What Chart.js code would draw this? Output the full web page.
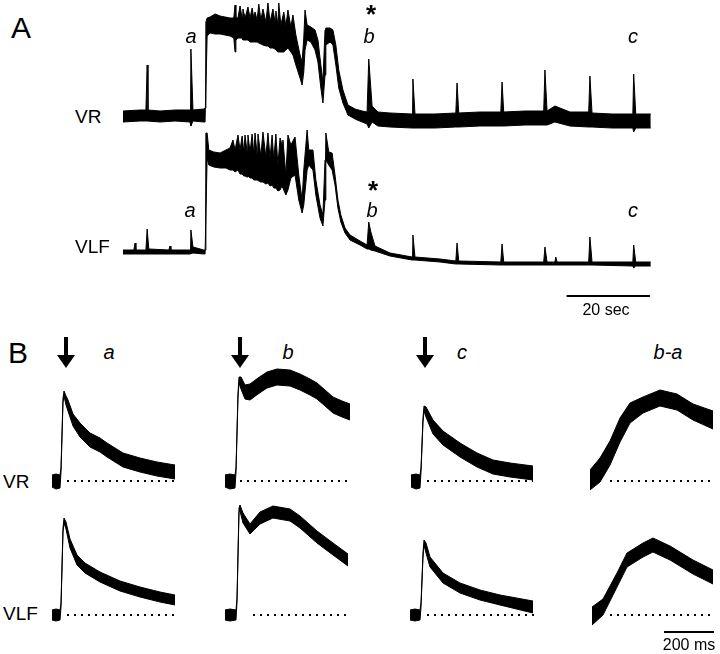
<!DOCTYPE html>
<html>
<head>
<meta charset="utf-8">
<script src="https://cdn.jsdelivr.net/npm/chart.js@4.4.1/dist/chart.umd.min.js"></script>
<style>
    body { margin: 0; background: #fff; }
    #fig { position: relative; width: 720px; height: 654px; overflow: hidden; font-family: Arial, "Liberation Sans", sans-serif; color: #000; }
    #fig canvas { position: absolute; }
    .lbl { position: absolute; transform: translate(-50%, -50%); white-space: nowrap; line-height: 1; }
    .lft { position: absolute; transform: translate(0, -50%); white-space: nowrap; line-height: 1; font-size: 19px; }
    .it { font-style: italic; font-size: 20px; }
    .big { font-size: 30px; }
    .star { font-size: 26px; font-weight: bold; }
    .bar { font-size: 16px; }
    .shaft { position: absolute; width: 4px; height: 20px; background: #000; }
    .head { position: absolute; width: 0; height: 0; border-left: 9px solid transparent; border-right: 9px solid transparent; border-top: 13px solid #000; }
</style>
</head>
<body>
<div id="fig">
    <canvas id="sweepVR" width="529" height="135" style="left:123px;top:0px"></canvas>
    <canvas id="sweepVLF" width="529" height="175" style="left:123px;top:125px"></canvas>
    <canvas id="vrA" width="125" height="130" style="left:52px;top:365px"></canvas>
    <canvas id="vrB" width="125" height="130" style="left:225px;top:365px"></canvas>
    <canvas id="vrC" width="125" height="130" style="left:410px;top:365px"></canvas>
    <canvas id="vrBA" width="125" height="130" style="left:590px;top:365px"></canvas>
    <canvas id="vlfA" width="125" height="145" style="left:52px;top:495px"></canvas>
    <canvas id="vlfB" width="125" height="145" style="left:225px;top:495px"></canvas>
    <canvas id="vlfC" width="125" height="145" style="left:410px;top:495px"></canvas>
    <canvas id="vlfBA" width="125" height="145" style="left:590px;top:495px"></canvas>

    <div class="lbl big" style="left:21px;top:28px">A</div>
    <div class="lft" style="left:75px;top:116px">VR</div>
    <div class="lft" style="left:75px;top:246px">VLF</div>
    <div class="lbl it" style="left:191px;top:36px">a</div>
    <div class="lbl star" style="left:371px;top:14px">*</div>
    <div class="lbl it" style="left:369px;top:36px">b</div>
    <div class="lbl it" style="left:633px;top:36px">c</div>
    <div class="lbl it" style="left:190px;top:210px">a</div>
    <div class="lbl star" style="left:373px;top:190px">*</div>
    <div class="lbl it" style="left:372px;top:210px">b</div>
    <div class="lbl it" style="left:633px;top:210px">c</div>
    <div class="lbl bar" style="left:606px;top:310px">20 sec</div>

    <div class="lbl big" style="left:18px;top:353px">B</div>
    <div class="lbl it" style="left:109px;top:352px">a</div>
    <div class="lbl it" style="left:288px;top:352px">b</div>
    <div class="lbl it" style="left:462px;top:352px">c</div>
    <div class="lbl it" style="left:668px;top:352px">b-a</div>
    <div class="lft" style="left:3px;top:481px">VR</div>
    <div class="lft" style="left:3px;top:613px">VLF</div>
    <div class="lbl bar" style="left:689px;top:645px">200 ms</div>

    <div class="shaft" style="left:64px;top:337px"></div>
    <div class="head" style="left:57px;top:355px"></div>
    <div class="shaft" style="left:238px;top:337px"></div>
    <div class="head" style="left:231px;top:355px"></div>
    <div class="shaft" style="left:423px;top:337px"></div>
    <div class="head" style="left:416px;top:355px"></div>
</div>
<script>
// panel A: [time (s), upper edge, lower edge] of the noisy band
const sweepVR = [
    [0, 9, -2], [4.1, 10, -1], [5.5, 10, -1], [5.8, 55, -1], [6.0, 10, -1], [8.9, 9, -2], [12.5, 10, -1],
    [16.1, 10, -2], [16.3, 71, -6], [16.8, 10, -1], [19.4, 11, -2], [19.7, 12, -2], [19.9, 98, -2],
    [20.2, 102, 84], [20.9, 103, 87], [22.1, 106, 86], [23.3, 104, 86], [24.5, 103, 85], [25.7, 102, 84],
    [26.6, 102, 82], [26.9, 115, 68], [27.1, 102, 80], [27.6, 102, 82], [28.1, 114, 82], [28.6, 102, 82],
    [28.8, 111, 80], [29.3, 102, 80], [30.0, 113, 80], [30.5, 102, 78], [31.0, 112, 78], [31.4, 102, 78],
    [31.7, 108, 78], [32.2, 100, 78], [32.6, 116, 77], [33.1, 100, 76], [33.6, 111, 75], [34.3, 98, 74],
    [34.8, 117, 74], [35.3, 98, 72], [36.0, 111, 72], [36.5, 98, 71], [36.7, 109, 70], [37.2, 95, 68],
    [37.4, 117, 68], [37.9, 95, 68], [38.6, 108, 68], [39.1, 94, 70], [39.6, 110, 72], [40.3, 93, 68],
    [40.8, 105, 65], [41.5, 85, 55], [42.5, 65, 42], [43.0, 58, 35], [43.4, 82, 48], [43.7, 110, 70],
    [44.2, 95, 80], [45.1, 93, 78], [46.1, 90, 70], [46.8, 80, 58], [47.5, 55, 32], [48.0, 38, 17],
    [48.5, 90, 45], [48.7, 92, 75], [49.7, 92, 78], [50.4, 90, 75], [51.1, 75, 55], [51.8, 50, 32],
    [52.8, 30, 17], [54.0, 15, 5], [55.7, 11, 1], [57.4, 9, -2], [58.6, 8, -4], [59.0, 61, -8],
    [59.8, 14, -2], [61.2, 8, -6], [64.1, 7, -7], [69.4, 6, -8], [69.6, 41, -8], [70.1, 6, -8],
    [74.9, 6, -8], [79.9, 7, -7], [80.2, 37, -7], [80.6, 7, -7], [85.7, 8, -6], [90.7, 8, -6],
    [91.0, 38, -6], [91.4, 8, -6], [96.5, 9, -5], [101.0, 9, -5], [101.3, 50, -5], [101.8, 9, -5],
    [103.7, 14, -2], [107.3, 8, -6], [111.8, 8, -7], [112.1, 44, -7], [112.6, 7, -7], [117.4, 6, -8],
    [122.4, 6, -8], [122.6, 46, -12], [123.1, 6, -8], [126.7, 6, -8]
];
const sweepVLF = [
    [0, 5, 1], [2.6, 5, 1], [2.9, 12, 1], [3.1, 5, 1], [5.5, 5, 1], [5.8, 26, 1], [6.2, 6, 1],
    [11.0, 5, 1], [11.3, 9, 1], [11.5, 5, 1], [16.1, 5, 1], [16.3, 25, 1], [16.8, 8, 2], [19.4, 5, 1],
    [19.7, 5, 1], [19.9, 122, 1], [20.2, 122, 97], [20.6, 105, 90], [21.8, 103, 88], [23.3, 102, 87],
    [24.7, 105, 87], [25.7, 107, 85], [26.4, 115, 85], [26.9, 105, 83], [27.6, 120, 85], [28.1, 105, 81],
    [28.6, 119, 81], [29.0, 103, 79], [29.3, 120, 79], [29.8, 103, 78], [30.0, 120, 79], [30.5, 103, 77],
    [31.0, 121, 77], [31.4, 101, 75], [31.7, 122, 75], [32.2, 100, 75], [32.4, 121, 75], [33.1, 99, 73],
    [33.6, 123, 73], [34.3, 98, 71], [34.8, 122, 72], [35.3, 97, 69], [35.8, 120, 70], [36.2, 95, 67],
    [36.7, 121, 67], [37.2, 90, 64], [37.7, 117, 65], [38.2, 110, 69], [38.4, 115, 67], [39.1, 80, 60],
    [39.6, 120, 65], [40.3, 110, 77], [41.3, 118, 80], [42.2, 80, 55], [43.0, 55, 42], [43.4, 85, 50],
    [44.2, 125, 85], [44.6, 105, 90], [45.6, 105, 85], [46.3, 75, 60], [47.3, 50, 37], [48.0, 40, 29],
    [48.5, 95, 55], [48.7, 122, 95], [49.4, 103, 90], [50.2, 102, 85], [50.9, 80, 70], [51.6, 55, 47],
    [52.3, 40, 33], [53.3, 27, 22], [54.5, 20, 15], [56.9, 14, 10], [58.6, 10, 6], [59.0, 33, 6],
    [59.5, 23, 5], [60.5, 9, 4], [64.1, 2, -1], [69.4, -2, -5], [69.6, 20, -5], [70.1, -2, -5],
    [76.1, -4, -7], [79.9, -6, -9], [80.2, 12, -9], [80.6, -6, -9], [90.7, -7, -10], [91.0, 11, -10],
    [91.4, -7, -10], [101.0, -7, -10], [101.3, 8, -10], [101.8, -7, -10], [103.7, -7, -10], [103.9, -2, -10],
    [104.2, -7, -10], [111.8, -7, -10], [112.1, 18, -10], [112.6, -7, -10], [122.4, -7, -11],
    [122.6, 10, -13], [123.1, -7, -11], [126.7, -7, -11]
];

// panel B: [time (ms), upper edge, lower edge]
const vrA = [
    [0, 6, -6], [16, 7, -8], [32, 6, -7], [36, 13, 9], [44, 83, 79], [48, 90, 85], [56, 85, 76], [64, 81, 70],
    [84, 67, 55], [112, 58, 44], [152, 48, 34], [192, 43, 29], [220, 38, 24], [284, 28, 14], [352, 23, 9],
    [420, 19, 5], [492, 16, 2]
];
const vrB = [
    [0, 6, -6], [20, 7, -8], [40, 6, -7], [44, 13, 9], [52, 88, 84], [56, 104, 98], [64, 104, 92], [80, 96, 82],
    [100, 97, 81], [132, 103, 87], [168, 109, 93], [208, 112, 96], [260, 111, 95], [300, 107, 91],
    [340, 102, 86], [368, 98, 82], [400, 91, 75], [432, 84, 68], [468, 80, 64], [500, 77, 61]
];
const vrC = [
    [4, 6, -6], [24, 7, -8], [40, 6, -7], [44, 13, 9], [52, 63, 59], [56, 75, 70], [64, 74, 64], [92, 61, 47],
    [132, 50, 36], [200, 38, 24], [268, 28, 14], [332, 21, 7], [400, 18, 4], [492, 15, 1]
];
const vrBA = [
    [0, 11, -9], [40, 23, -1], [80, 40, 16], [120, 63, 39], [160, 78, 58], [212, 84, 68], [280, 91, 75],
    [348, 87, 71], [412, 77, 61], [492, 70, 52]
];
const vlfA = [
    [0, 5, -5], [16, 6, -6], [32, 5, -5], [36, 12, 8], [44, 87, 83], [48, 97, 92], [56, 93, 86], [72, 76, 67],
    [100, 60, 50], [132, 52, 42], [192, 43, 33], [272, 34, 24], [352, 28, 18], [432, 23, 13], [492, 20, 10]
];
const vlfB = [
    [0, 5, -5], [20, 6, -6], [44, 5, -5], [48, 17, 13], [56, 107, 103], [60, 110, 104], [72, 102, 92],
    [100, 91, 81], [140, 103, 91], [192, 109, 97], [260, 106, 94], [300, 99, 87], [368, 84, 72],
    [432, 72, 60], [492, 61, 49]
];
const vlfC = [
    [0, 5, -5], [20, 6, -6], [40, 5, -5], [44, 12, 8], [52, 62, 58], [56, 75, 70], [64, 72, 62], [80, 58, 48],
    [132, 42, 32], [200, 32, 22], [280, 25, 15], [360, 20, 10], [492, 14, 2]
];
const vlfBA = [
    [8, 8, -10], [52, 16, 0], [108, 42, 28], [148, 62, 48], [212, 72, 58], [252, 77, 63], [320, 69, 55],
    [412, 55, 41], [492, 45, 31]
];

// dotted zero lines (ms)
const vrZero = { vrA: [60, 492], vrB: [60, 500], vrC: [68, 492], vrBA: [80, 492] };
const vlfZero = { vlfA: [60, 492], vlfB: [112, 488], vlfC: [68, 500], vlfBA: [80, 492] };

// scale bars
const secBar = [106.5, 126.5];
const msBar = [296, 496];

const toPts = (rows, k) => rows.map(r => ({ x: r[0], y: r[k] }));

const line = (pts, extra = {}) => ({
    data: pts, borderColor: '#000', borderWidth: 1, pointRadius: 0, fill: false, ...extra
});

const drawTrace = (id, rows, xMax, yMin, yMax, extras = []) => {
    const ctx = document.getElementById(id).getContext('2d');
    return new Chart(ctx, {
        type: 'line',
        data: {
            datasets: [
                line(toPts(rows, 1)),
                line(toPts(rows, 2), { fill: '-1', backgroundColor: '#000' }),
                ...extras
            ]
        },
        options: {
            responsive: false,
            animation: false,
            devicePixelRatio: 1,
            layout: { padding: 0 },
            elements: { line: { tension: 0 } },
            plugins: { legend: { display: false }, tooltip: { enabled: false } },
            scales: {
                x: { type: 'linear', min: 0, max: xMax, display: false },
                y: { min: yMin, max: yMax, display: false }
            }
        }
    });
};

const dots = ([a, b]) => line([{ x: a, y: 0 }, { x: b, y: 0 }], { borderWidth: 2, borderDash: [2, 5] });
const bar = ([a, b], y) => line([{ x: a, y: y }, { x: b, y: y }], { borderWidth: 2 });

drawTrace('sweepVR', sweepVR, 127, -15, 120);
drawTrace('sweepVLF', sweepVLF, 127, -45, 130, [bar(secBar, -41)]);

drawTrace('vrA', vrA, 500, -14, 116, [dots(vrZero.vrA)]);
drawTrace('vrB', vrB, 500, -14, 116, [dots(vrZero.vrB)]);
drawTrace('vrC', vrC, 500, -14, 116, [dots(vrZero.vrC)]);
drawTrace('vrBA', vrBA, 500, -14, 116, [dots(vrZero.vrBA)]);
drawTrace('vlfA', vlfA, 500, -25, 120, [dots(vlfZero.vlfA)]);
drawTrace('vlfB', vlfB, 500, -25, 120, [dots(vlfZero.vlfB)]);
drawTrace('vlfC', vlfC, 500, -25, 120, [dots(vlfZero.vlfC)]);
drawTrace('vlfBA', vlfBA, 500, -25, 120, [dots(vlfZero.vlfBA), bar(msBar, -17)]);
</script>
</body>
</html>
